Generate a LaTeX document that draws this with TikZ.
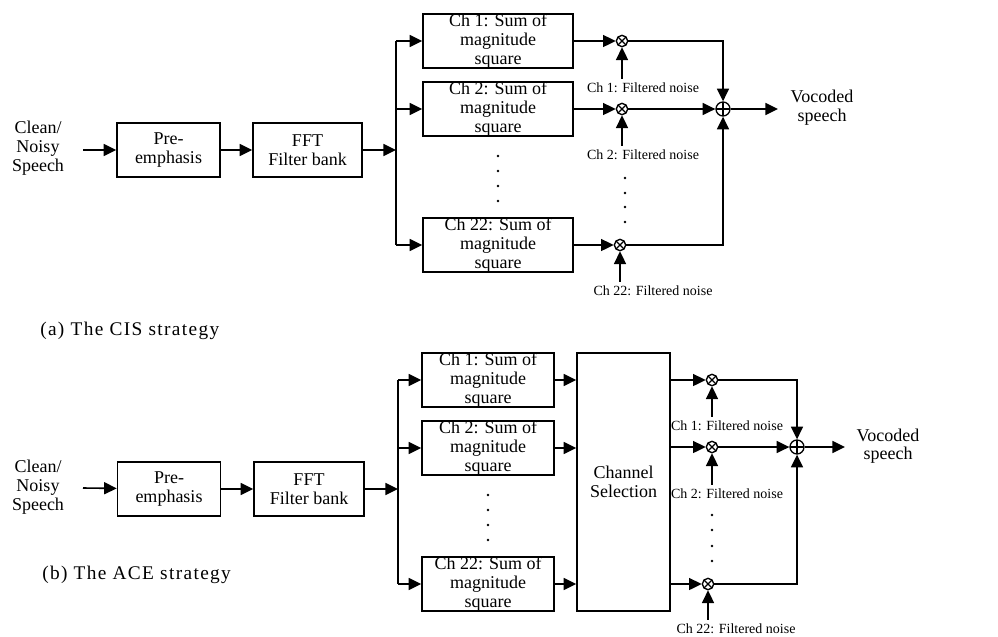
\documentclass[tikz,border=0pt]{standalone}
\usepackage{fontspec}
\setmainfont{Liberation Serif}
\newfontfamily\capfont[LetterSpace=7]{Liberation Serif}
\usepackage{tikz}
\usetikzlibrary{arrows.meta,calc}

\tikzset{
  blk/.style={draw,line width=1.1pt,minimum height=40.5pt,inner sep=0pt,align=center,
    font=\fontsize{13.5}{14}\selectfont},
  txt/.style={align=center,inner sep=0pt,font=\fontsize{13.5}{14}\selectfont},
  nz/.style={inner sep=1pt,font=\fontsize{10.5}{11}\selectfont},
  captxt/.style={anchor=west,inner sep=0pt,font=\capfont\fontsize{14.5}{15}\selectfont},
  mult/.style={draw,circle,line width=1pt,minimum size=8.5pt,inner sep=0pt,
    path picture={\draw[line width=0.9pt] (path picture bounding box.north west) -- (path picture bounding box.south east)
      (path picture bounding box.north east) -- (path picture bounding box.south west);}},
  add/.style={draw,circle,line width=1pt,minimum size=10.5pt,inner sep=0pt,
    path picture={\draw[line width=0.9pt] (path picture bounding box.north) -- (path picture bounding box.south)
      (path picture bounding box.west) -- (path picture bounding box.east);}},
  sig/.style={line width=1.2pt,-{Triangle[length=9.5pt,width=9pt]}},
  wire/.style={line width=1.2pt},
}

\begin{document}
\begin{tikzpicture}[x=0.75pt,y=-0.75pt]
  \useasboundingbox (0,0) rectangle (998,636);
  % ===== (a) CIS strategy =====
  \node[txt] (inA) at (38,148) {Clean/\\Noisy\\Speech};
  \node[blk,minimum width=77.25pt] (preA) at (168.5,150) {Pre-\\emphasis};
  \node[blk,minimum width=81.75pt] (fftA) at (307.5,150) {FFT\\Filter bank};
  \coordinate (splitA) at (396,150);
  \node[blk,minimum width=112.5pt] (chA1) at (498,41) {Ch 1: Sum of\\magnitude\\square};
  \node[blk,minimum width=112.5pt] (chA2) at (498,109) {Ch 2: Sum of\\magnitude\\square};
  \node[blk,minimum width=112.5pt] (chA22) at (498,245) {Ch 22: Sum of\\magnitude\\square};
  \node[mult] (multA1) at (622,41) {};
  \node[mult] (multA2) at (622,109) {};
  \node[mult] (multA22) at (620,245) {};
  \node[nz] (nzA1) at (643,88) {Ch 1: Filtered noise};
  \node[nz] (nzA2) at (643,155) {Ch 2: Filtered noise};
  \node[nz] (nzA22) at (653,291) {Ch 22: Filtered noise};
  \node[add] (sumA) at (723,109) {};
  \coordinate (outA) at (778,109);
  \node[txt] (vocA) at (822,108) {Vocoded\\speech};
  \node[captxt] (capA) at (40,331) {(a) The CIS strategy};

  \draw[sig] (83,150) -- (preA);
  \draw[sig] (preA) -- (fftA);
  \draw[sig] (fftA) -- (splitA);
  \draw[wire] (splitA |- chA1) -- (splitA |- chA22);
  \foreach \c in {chA1,chA2,chA22}
    \draw[sig] (splitA |- \c) -- (\c.west);
  \foreach \i in {1,2,22}
  {
    \draw[sig] (chA\i.east |- multA\i) -- (multA\i);
    \draw[sig] ([yshift=2pt]multA\i |- nzA\i.north) -- (multA\i);
  }
  \draw[sig] (multA1) -| (sumA);
  \draw[sig] (multA2) -- (sumA);
  \draw[sig] (multA22) -| (sumA);
  \draw[sig] (sumA) -- (outA);
  \foreach \y in {156,171,186,201} \fill (498,\y) circle (1.1pt);
  \foreach \y in {178,193,207,222} \fill (625,\y) circle (1.1pt);

  % ===== (b) ACE strategy =====
  \node[txt] (inB) at (38,487) {Clean/\\Noisy\\Speech};
  \node[blk,minimum width=77.25pt] (preB) at (169,489) {Pre-\\emphasis};
  \node[blk,minimum width=82.5pt] (fftB) at (309,489) {FFT\\Filter bank};
  \coordinate (splitB) at (398,489);
  \node[blk,minimum width=99pt] (chB1) at (488,380) {Ch 1: Sum of\\magnitude\\square};
  \node[blk,minimum width=99pt] (chB2) at (488,448) {Ch 2: Sum of\\magnitude\\square};
  \node[blk,minimum width=99pt] (chB22) at (488,584) {Ch 22: Sum of\\magnitude\\square};
  \node[blk,minimum width=69.75pt,minimum height=193.5pt] (selB) at (623.5,482) {Channel\\Selection};
  \node[mult] (multB1) at (712,380) {};
  \node[mult] (multB2) at (712,447) {};
  \node[mult] (multB22) at (708,584) {};
  \node[nz] (nzB1) at (727,426) {Ch 1: Filtered noise};
  \node[nz] (nzB2) at (727,494) {Ch 2: Filtered noise};
  \node[nz] (nzB22) at (736,629) {Ch 22: Filtered noise};
  \node[add] (sumB) at (797,447) {};
  \coordinate (outB) at (845,447);
  \node[txt] (vocB) at (888,446) {Vocoded\\speech};
  \node[captxt] (capB) at (42,575) {(b) The ACE strategy};

  \draw[sig] (83,488) -- (preB);
  \draw[sig] (preB) -- (fftB);
  \draw[sig] (fftB) -- (splitB);
  \draw[wire] (splitB |- chB1) -- (splitB |- chB22);
  \foreach \i in {1,2,22}
  {
    \draw[sig] (splitB |- chB\i) -- (chB\i.west);
    \draw[sig] (chB\i.east) -- (selB.west |- chB\i);
    \draw[sig] (selB.east |- multB\i) -- (multB\i);
    \draw[sig] ([yshift=2pt]multB\i |- nzB\i.north) -- (multB\i);
  }
  \draw[sig] (multB1) -| (sumB);
  \draw[sig] (multB2) -- (sumB);
  \draw[sig] (multB22) -| (sumB);
  \draw[sig] (sumB) -- (outB);
  \foreach \y in {495,510,525,540} \fill (488,\y) circle (1.1pt);
  \foreach \y in {515,530,546,561} \fill (712,\y) circle (1.1pt);
\end{tikzpicture}
\end{document}
